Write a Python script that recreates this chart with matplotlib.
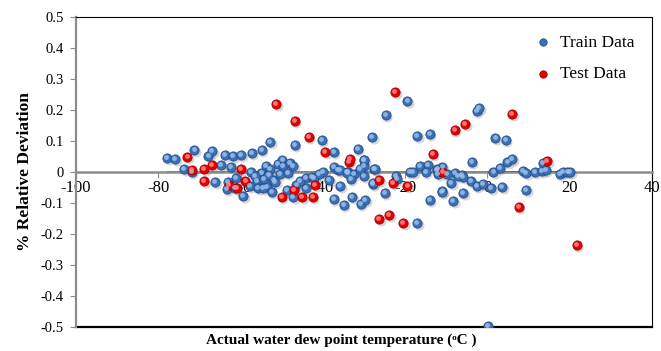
import matplotlib
matplotlib.use("Agg")
import matplotlib.pyplot as plt
import matplotlib.transforms as mtransforms
import numpy as np

plt.rcParams["font.family"] = ["Liberation Serif", "DejaVu Serif"]

# training set: actual dew point (C) and relative deviation
train_x = [
    -77.8, -75.9, -71.2, -73.7, -71.8, -67.8, -66.9, -64.7, -63.7, -62.3,
    -61.8, -59.8, -57.3, -57.5, -54.8, -52.8, -53.8, -52.8, -50.9, -49.8,
    -49.6, -48.0, -47.2, -46.8, -40.3, -39.9, -37.3, -37.3, -36.2, -34.1,
    -32.4, -31.5, -30.0, -30.0, -27.5, -28.0, -24.7, -19.4, -17.0, -14.0,
    -2.5, -2.0, 2.0, 4.5, -3.8, 4.9, 6.05, 13.5, -16.4, -14.4,
    -10.9, -12.1, -14.9, -18.8, -18.0, 1.5, 3.1, 8.6, 9.5, 11.6,
    13.2, 14.2, 17.6, 18.3, 19.5, 20.2, -35.8, -33.8, -7.9, -6.2,
    -5.8, -22.2, -22.0, -33.2, -30.0, -27.9, -24.9, -35.8, -32.8, -34.9,
    -30.8, -29.7, -12.3, -11.9, -9.9, -7.1, -8.8, -4.0, -2.6, -1.0,
    1.0, 3.6, -10.9, -5.8, -14.0, -8.3, 9.5, -17.0, -27.7, -11.1,
    0.15, -66.2, -63.1, -63.4, -61.2, -61.4, -59.3, -57.7, -56.1, -55.7,
    -54.9, -54.3, -53.6, -52.0, -52.4, -54.5, -51.6, -48.8, -47.2, -46.4,
    -44.0, -44.1, -42.7, -42.1, -38.4, -37.3, -56.5, -53.2, -50.5, -48.5,
    -31.0, -29.9, -34.0, -27.3, -45.5, -41.0,
]
train_y = [
    0.044, 0.042, 0.070, 0.009, 0.001, 0.052, 0.068, 0.024, 0.056, 0.017,
    0.053, 0.056, 0.061, 0.001, 0.072, 0.098, 0.019, 0.010, 0.026, 0.040,
    0.020, 0.028, 0.020, 0.087, 0.103, -0.001, 0.065, 0.017, 0.005, -0.001,
    -0.008, 0.073, 0.039, 0.019, 0.009, 0.114, 0.184, 0.230, 0.116, 0.123,
    0.197, 0.207, 0.111, 0.103, 0.031, 0.033, 0.041, 0.030, 0.019, 0.023,
    0.017, 0.009, 0.001, 0.001, 0.001, 0.000, 0.012, 0.003, -0.004, 0.001,
    0.003, 0.005, -0.006, 0.000, 0.001, 0.000, 0.008, 0.000, -0.003, -0.010,
    -0.015, -0.012, -0.024, -0.024, -0.012, -0.039, -0.067, -0.044, -0.082, -0.106,
    -0.103, -0.090, 0.006, -0.007, -0.007, -0.013, -0.036, -0.028, -0.045, -0.038,
    -0.053, -0.050, -0.061, -0.069, -0.090, -0.095, -0.058, -0.164, -0.036, -0.063,
    -0.497, -0.032, -0.031, -0.056, -0.020, -0.051, -0.076, -0.045, -0.030, -0.053,
    -0.004, -0.024, -0.047, -0.026, -0.064, -0.053, -0.031, -0.058, -0.082, -0.042,
    -0.018, -0.053, -0.015, -0.020, -0.026, -0.087, -0.012, -0.010, -0.005, -0.002,
    0.009, 0.039, -0.002, 0.009, -0.030, -0.005,
]

# test set
test_x = [
    -72.9, -71.9, -68.8, -66.9, -59.8, -68.8, -62.9, -60.9, -58.8, -51.3,
    -46.8, -43.4, -39.4, -33.7, -33.4, -50.0, -46.9, -45.0, -42.4, -41.8,
    -22.4, -13.3, -10.9, -7.9, -5.4, 6.05, 14.6, -26.3, -23.0, -19.4,
    -26.3, -23.8, -20.4, 7.7, 21.8,
]
test_y = [
    0.049, 0.005, 0.009, 0.024, 0.011, -0.030, -0.041, -0.051, -0.028, 0.219,
    0.165, 0.113, 0.065, 0.031, 0.043, -0.080, -0.058, -0.082, -0.080, -0.042,
    0.259, 0.059, -0.001, 0.135, 0.156, 0.186, 0.034, -0.025, -0.034, -0.045,
    -0.152, -0.139, -0.164, -0.113, -0.235,
]

x_ticks = [-100, -80, -60, -40, -20, 0, 20, 40]
y_ticks = [0.5, 0.4, 0.3, 0.2, 0.1, 0, -0.1, -0.2, -0.3, -0.4, -0.5]
y_labels = ["0.5", "0.4", "0.3", "0.2", "0.1", "0",
            "-0.1", "-0.2", "-0.3", "-0.4", "-0.5"]


def sphere(ax, fig, x, y, base, edge, light, label):
    """Scatter drawn as small shaded balls with a soft drop shadow."""
    shadow = mtransforms.offset_copy(ax.transData, fig=fig, x=1.5, y=-2.0,
                                     units="dots")
    ax.scatter(x, y, s=52, color="#7a7a7a", alpha=0.3, linewidths=0,
               transform=shadow, zorder=3)
    h = ax.scatter(x, y, s=44, color=base, edgecolors=edge, linewidths=0.6,
                   zorder=4, label=label)
    hi = mtransforms.offset_copy(ax.transData, fig=fig, x=-0.9, y=1.0,
                                 units="dots")
    ax.scatter(x, y, s=12, color=light, alpha=0.85, linewidths=0,
               transform=hi, zorder=5)
    return h


fig = plt.figure(figsize=(6.61, 3.51), dpi=100)
ax = fig.add_axes([0.115, 0.0684, 0.871, 0.8832])

ax.set_xlim(-100, 40)
ax.set_ylim(-0.5, 0.5)

h_train = sphere(ax, fig, train_x, train_y, "#3b6fb6", "#24508c", "#9cc0ea",
                 "Train Data")
h_test = sphere(ax, fig, test_x, test_y, "#e30000", "#a80000", "#ff8a8a",
                "Test Data")

# zero line across the data range
ax.hlines(0, min(train_x), 0, color="#6e6e6e", lw=1.4, zorder=2)
ax.hlines(0, 0, max(train_x), color="black", lw=1.4, zorder=2)

# axes: vertical axis at the left, horizontal axis through zero
ax.spines["left"].set_color("#8c8c8c")
ax.spines["left"].set_linewidth(1.6)
ax.spines["bottom"].set_position(("data", 0))
ax.spines["bottom"].set_color("#8c8c8c")
ax.spines["bottom"].set_linewidth(1.8)
ax.spines["top"].set_color("black")
ax.spines["right"].set_color("black")
ax.axhline(-0.5, color="black", lw=1.6, clip_on=False, zorder=1)

ax.set_xticks(x_ticks)
ax.set_xticklabels([str(v) for v in x_ticks])
ax.set_yticks(y_ticks)
ax.set_yticklabels(y_labels)
ax.tick_params(axis="x", direction="out", length=4, color="#8c8c8c",
               labelsize=12, pad=2)
ax.tick_params(axis="y", direction="out", length=4, color="#8c8c8c",
               labelsize=10.5, pad=5)

ax.set_ylabel("% Relative Deviation", fontsize=12.5, fontweight="bold",
              labelpad=5)
fig.text(0.517, 0.012, "Actual water dew point temperature (\u1d52C )",
         ha="center", va="bottom", fontsize=11, fontweight="bold")

ax.legend(handles=[h_train, h_test], loc="upper right", frameon=False,
          fontsize=12.5, handletextpad=0.0, labelspacing=0.9,
          borderaxespad=0.6, markerscale=0.8)

fig.savefig("out.png", dpi=100)
